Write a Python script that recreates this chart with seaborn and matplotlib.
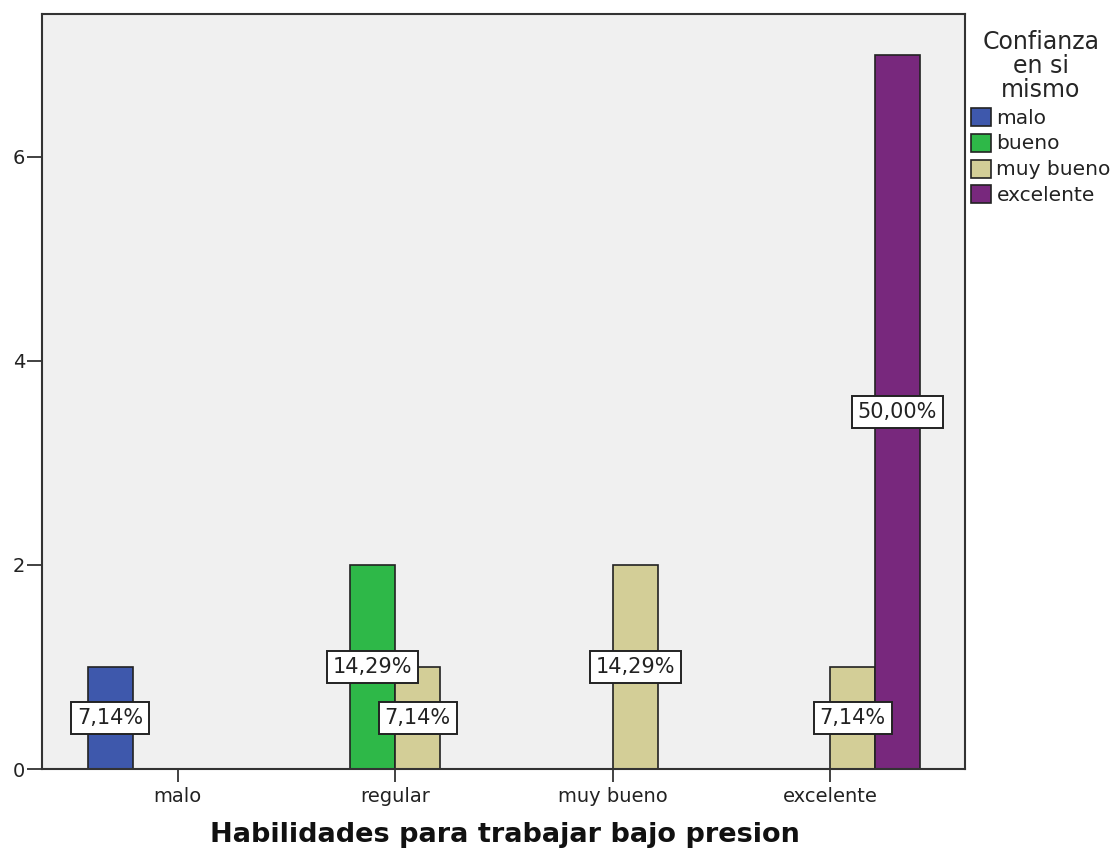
import pandas as pd
import seaborn as sns
import matplotlib.pyplot as plt

# datos
habilidades = ['malo', 'regular', 'muy bueno', 'excelente']
confianza = ['malo', 'bueno', 'muy bueno', 'excelente']
hab_col = ['malo', 'regular', 'regular', 'muy bueno', 'excelente', 'excelente']
conf_col = ['malo', 'bueno', 'muy bueno', 'muy bueno', 'muy bueno', 'excelente']
recuento = [1, 2, 1, 2, 1, 7]
total = 14

colores = ['#3E58AC', '#2EB848', '#D3CE97', '#78287D']

dane = pd.DataFrame({'hab': hab_col, 'conf': conf_col, 'n': recuento})

sns.set_style('white')
plt.rcParams['font.family'] = ['DejaVu Sans']

f = plt.figure(figsize=(11.2, 8.52), dpi=100)
ax1 = f.add_axes([0.0375, 0.0974, 0.8241, 0.8862])

sns.barplot(data=dane, x='hab', y='n', hue='conf', order=habilidades,
            hue_order=confianza, palette=colores, dodge=True, width=0.826,
            edgecolor='#222222', linewidth=1.2, saturation=1, ax=ax1)

ax1.set_facecolor('#F0F0F0')
ax1.set(xlim=(-0.624, 3.62), ylim=(0, 7.4))
ax1.set_yticks([0, 2, 4, 6])
ax1.set(xlabel=None, ylabel=None)
ax1.tick_params(axis='y', left=True, length=11, width=1.3, color='#333333',
                labelsize=14, pad=1, labelcolor='#222222')
ax1.tick_params(axis='x', bottom=True, length=9, width=1.3, color='#333333',
                labelsize=14, pad=4, labelcolor='#222222')
for s in ax1.spines.values():
    s.set_color('#333333')
    s.set_linewidth(1.5)

# etiquetas de porcentaje
for cont in ax1.containers:
    for bar in cont:
        h = bar.get_height()
        if h > 0:
            txt = '{:.2f}%'.format(h / total * 100).replace('.', ',')
            ax1.text(bar.get_x() + bar.get_width() / 2, h / 2, txt,
                     ha='center', va='center', fontsize=15, color='#222222',
                     bbox=dict(boxstyle='square,pad=0.28', fc='white',
                               ec='#222222', lw=1.4))

leg = ax1.legend(title='Confianza\nen si\nmismo', loc='upper left',
                 bbox_to_anchor=(0.998, 0.99), frameon=False, fontsize=14.5,
                 title_fontsize=17, handlelength=1.0, handleheight=1.0,
                 handletextpad=0.25, labelspacing=0.3, borderaxespad=0)
leg.get_title().set_multialignment('center')
leg.get_title().set_linespacing(1.0)
leg._legend_box.align = 'center'
for t in leg.get_texts():
    t.set_color('#222222')
for p in leg.get_patches():
    p.set_edgecolor('#222222')

f.text(0.451, 0.012, 'Habilidades para trabajar bajo presion', ha='center',
       fontsize=19.5, fontweight='bold', color='#111111')

f.savefig('out.png', dpi=100)
